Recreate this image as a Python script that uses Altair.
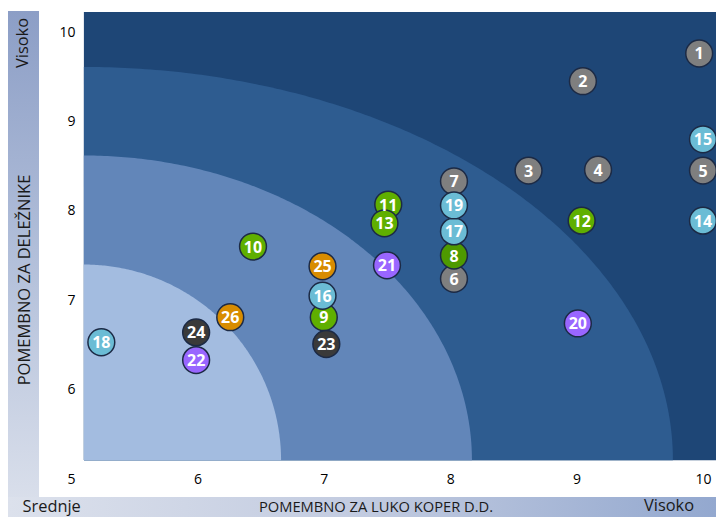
import altair as alt
import pandas as pd

# ---------------- data ----------------
issue_ids = [1, 2, 3, 4, 5, 6, 7, 8, 9, 10, 11, 12, 13, 14, 15, 25, 16, 17, 18, 19, 20, 21, 22, 23, 24, 26]
x_luka = [9.97, 9.05, 8.62, 9.17, 10.0, 8.03, 8.03, 8.03, 7.00, 6.44, 7.51, 9.04, 7.48, 10.0, 10.0,
          6.99, 6.99, 8.03, 5.24, 8.03, 9.01, 7.50, 5.99, 7.02, 5.99, 6.26]
y_delez = [9.76, 9.45, 8.45, 8.46, 8.45, 7.24, 8.33, 7.50, 6.81, 7.60, 8.07, 7.89, 7.86, 7.89, 8.80,
           7.38, 7.05, 7.77, 6.53, 8.06, 6.74, 7.39, 6.33, 6.51, 6.64, 6.81]
groups = ["siva", "siva", "siva", "siva", "siva", "siva", "siva", "temnozelena", "zelena", "zelena",
          "zelena", "zelena", "zelena", "modra", "modra", "oranzna", "modra", "modra", "modra", "modra",
          "vijolicna", "vijolicna", "vijolicna", "crna", "crna", "oranzna"]
group_colors = {
    "siva": "#7F7F7F",
    "temnozelena": "#4E9A00",
    "zelena": "#5FAF00",
    "modra": "#6BBCD5",
    "vijolicna": "#9966FF",
    "crna": "#3A3A3A",
    "oranzna": "#D88C00",
}

x_ticks = [5, 6, 7, 8, 9, 10]
y_ticks = [6, 7, 8, 9, 10]
x_domain = [5, 10.103]
y_domain = [5, 10.224]

# background zones (quarter ellipses from the lower-left corner)
zone_center = [5.102, 5.209]
zone_rx = [4.66, 3.07, 1.56]
zone_ry = [4.40, 3.41, 2.19]
zone_colors = ["#2E5C90", "#6286B9", "#A3BCE0"]
bg_color = "#1E4676"

title_x = "POMEMBNO ZA LUKO KOPER D.D."
title_y = "POMEMBNO ZA DELEŽNIKE"
low_label = "Srednje"
high_label = "Visoko"

FONT = "Open Sans"

df = pd.DataFrame({
    "id": [str(i) for i in issue_ids],
    "x": x_luka,
    "y": y_delez,
    "fill": [group_colors[g] for g in groups],
})

xs = alt.Scale(domain=x_domain, nice=False, zero=False)
ys = alt.Scale(domain=y_domain, nice=False, zero=False)

ax_x = alt.Axis(values=x_ticks, format="d", title=None, grid=False, domain=False, ticks=False,
                tickSize=0, labelPadding=0, labelBaseline="middle", labelFlush=False,
                labelFont=FONT, labelFontSize=14, labelColor="#000000")
ax_y = alt.Axis(values=y_ticks, format="d", title=None, grid=False, domain=False, ticks=False,
                tickSize=0, labelPadding=0, offset=-4, labelFont=FONT, labelFontSize=14,
                labelColor="#000000")

# ---------------- background ----------------
bg = alt.Chart(pd.DataFrame({
    "x0": [zone_center[0]], "x1": [x_domain[1]], "y0": [zone_center[1]], "y1": [y_domain[1]]
})).mark_rect(color=bg_color).encode(
    x=alt.X("x0:Q", scale=xs, axis=ax_x), x2="x1:Q",
    y=alt.Y("y0:Q", scale=ys, axis=ax_y), y2="y1:Q",
)

zones = []
for rx, ry, c in zip(zone_rx, zone_ry, zone_colors):
    z = alt.Chart(alt.sequence(0, 90.5, 0.5, as_="deg")).transform_calculate(
        xx=f"{zone_center[0]} + {rx} * cos(datum.deg * PI / 180)",
        yy=f"{zone_center[1]} + {ry} * sin(datum.deg * PI / 180)",
        y0=f"{zone_center[1]}",
    ).mark_area(color=c, opacity=1).encode(
        x=alt.X("xx:Q", scale=xs, axis=ax_x),
        y=alt.Y("yy:Q", scale=ys, axis=ax_y),
        y2="y0:Q",
    )
    zones.append(z)

# ---------------- bubbles ----------------
bubbles = alt.Chart(df).mark_circle(size=720, opacity=1, stroke="#1C2A45", strokeWidth=1.5).encode(
    x=alt.X("x:Q", scale=xs, axis=ax_x),
    y=alt.Y("y:Q", scale=ys, axis=ax_y),
    color=alt.Color("fill:N", scale=None),
)

labels = alt.Chart(df).mark_text(font=FONT, fontWeight="bold", fontSize=16, color="white",
                                 baseline="middle", dy=1).encode(
    x=alt.X("x:Q", scale=xs, axis=ax_x), y=alt.Y("y:Q", scale=ys, axis=ax_y), text="id:N"
)

# ---------------- decorative frame ----------------
one = pd.DataFrame({"a": [0]})
left_bar = alt.Chart(one).mark_rect(color=alt.LinearGradient(
    gradient="linear", x1=0, x2=0, y1=0, y2=1,
    stops=[alt.GradientStop(color="#8C9EC6", offset=0),
           alt.GradientStop(color="#B3C0DA", offset=0.5),
           alt.GradientStop(color="#DCE1EC", offset=1)])).encode(
    x=alt.value(-63), x2=alt.value(-32), y=alt.value(-1), y2=alt.value(505))

bottom_bar = alt.Chart(one).mark_rect(color=alt.LinearGradient(
    gradient="linear", x1=0, x2=1, y1=0, y2=0,
    stops=[alt.GradientStop(color="#DCE1EC", offset=0),
           alt.GradientStop(color="#C2CBE0", offset=0.5),
           alt.GradientStop(color="#93A8CF", offset=1)])).encode(
    x=alt.value(-63), x2=alt.value(645), y=alt.value(485), y2=alt.value(505))


def deco_text(txt, x, y, size, angle=0, align="center", baseline="alphabetic"):
    return alt.Chart(pd.DataFrame({"t": [txt]})).mark_text(
        font=FONT, fontSize=size, angle=angle, align=align, baseline=baseline, color="#1A1A1A"
    ).encode(x=alt.value(x), y=alt.value(y), text="t:N")


texts = [
    deco_text(high_label, -43, 31, 16.4, angle=270),
    deco_text(title_y, -41.5, 268, 16.5, angle=270),
    deco_text(low_label, -48.5, 499.5, 16.4, align="left"),
    deco_text(title_x, 305, 500, 14.7),
    deco_text(high_label, 598, 499, 16.4),
]

chart = alt.layer(bg, *zones, left_bar, bottom_bar, *texts, bubbles, labels).properties(
    width=645, height=467,
    padding={"left": 63, "top": 4, "right": 0, "bottom": 38},
    autosize=alt.AutoSizeParams(type="none"),
).configure_view(stroke=None)

chart.save("out.html", embed_options={"renderer": "svg", "actions": False})
